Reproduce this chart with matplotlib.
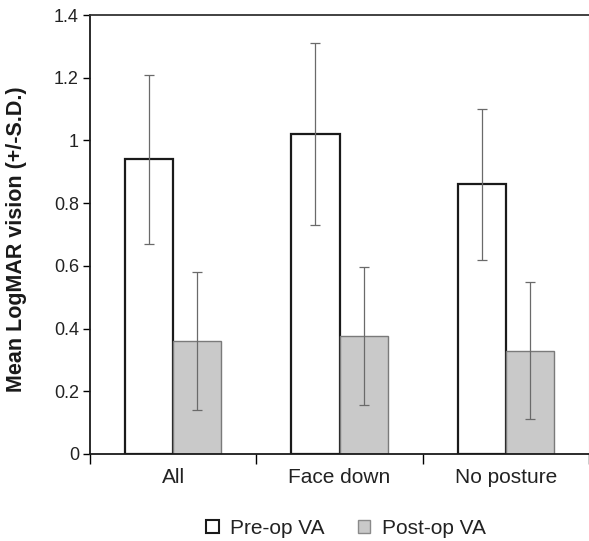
import matplotlib
matplotlib.use("Agg")
import matplotlib.pyplot as plt
import numpy as np
from matplotlib.patches import Patch

categories = ["All", "Face down", "No posture"]
pre_op = [0.94, 1.02, 0.86]
pre_sd = [0.27, 0.29, 0.24]
post_op = [0.36, 0.376, 0.33]
post_sd = [0.22, 0.22, 0.218]
series_names = ["Pre-op VA", "Post-op VA"]
y_ticks = [0, 0.2, 0.4, 0.6, 0.8, 1.0, 1.2, 1.4]
y_tick_labels = ["0", "0.2", "0.4", "0.6", "0.8", "1", "1.2", "1.4"]
y_label = "Mean LogMAR vision (+/-S.D.)"

plt.rcParams['font.family'] = ['Liberation Sans', 'DejaVu Sans']

W, H = 589, 541
fig = plt.figure(figsize=(W / 100, H / 100), dpi=100)
ax = fig.add_axes([90 / W, 1 - 454 / H, (589 - 90) / W, (454 - 15) / H])

x = np.arange(len(categories))
bw = 0.29
err_kw = dict(ecolor="#6a6a6a", elinewidth=0.9, capsize=3.6, capthick=0.9)
ax.bar(x - bw / 2, pre_op, bw, yerr=pre_sd, color="white", edgecolor="#1a1a1a",
       linewidth=1.6, error_kw=err_kw, zorder=2)
ax.bar(x + bw / 2, post_op, bw, yerr=post_sd, color="#c9c9c9", edgecolor="#7a7a7a",
       linewidth=1.0, error_kw=err_kw, zorder=2)

ax.set_xlim(-0.5, len(categories) - 0.5)
ax.set_ylim(0, 1.4)
ax.set_yticks(y_ticks)
ax.set_yticklabels(y_tick_labels, fontsize=13, color="#222222")
ax.tick_params(axis="y", direction="out", length=5, width=1.0, pad=3)

ax.set_xticks(np.arange(len(categories) + 1) - 0.5)
ax.set_xticklabels([])
ax.tick_params(axis="x", which="major", direction="out", length=7, width=1.0)
ax.set_xticks(x, minor=True)
ax.set_xticklabels(categories, minor=True, fontsize=15, color="#222222")
ax.tick_params(axis="x", which="minor", length=0, pad=10)

for s in ["left", "bottom"]:
    ax.spines[s].set_linewidth(1.3)
    ax.spines[s].set_color("#1a1a1a")
ax.spines["top"].set_linewidth(1.3)
ax.spines["top"].set_color("#333333")
ax.spines["right"].set_linewidth(0.8)
ax.spines["right"].set_color("#cccccc")

fig.text(17 / W, 1 - 239 / H, y_label, rotation=90, fontsize=15.5,
         fontweight="bold", ha="center", va="center", color="#1a1a1a")

handles = [Patch(facecolor="white", edgecolor="#1a1a1a", linewidth=1.5),
           Patch(facecolor="#c9c9c9", edgecolor="#8a8a8a", linewidth=1.0)]
fig.legend(handles, series_names, loc="center", bbox_to_anchor=(346 / W, 1 - 528 / H),
           ncol=2, frameon=False, fontsize=15, handlelength=0.6, handleheight=0.6,
           handletextpad=0.55, columnspacing=1.6, labelcolor="#222222")

fig.savefig("out.png", dpi=100)
